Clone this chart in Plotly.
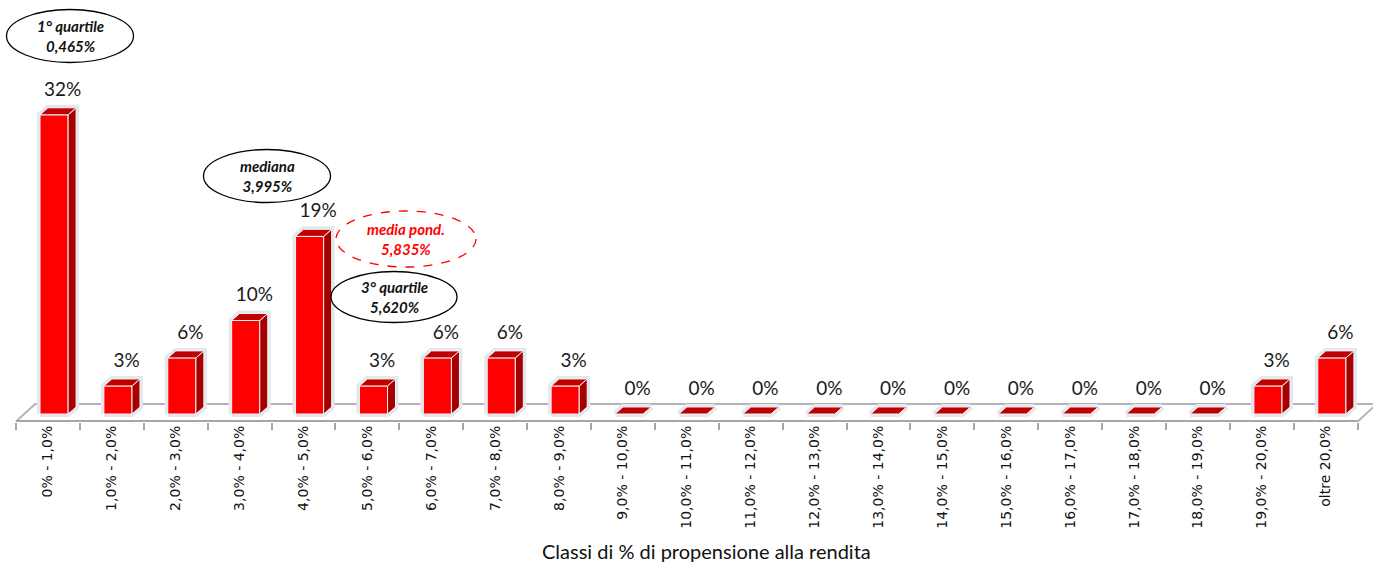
import plotly.graph_objects as go

# Distribution of the "propensione alla rendita" classes (share of cases, %)
categories = [
    "0% - 1,0%", "1,0% - 2,0%", "2,0% - 3,0%", "3,0% - 4,0%", "4,0% - 5,0%",
    "5,0% - 6,0%", "6,0% - 7,0%", "7,0% - 8,0%", "8,0% - 9,0%", "9,0% - 10,0%",
    "10,0% - 11,0%", "11,0% - 12,0%", "12,0% - 13,0%", "13,0% - 14,0%",
    "14,0% - 15,0%", "15,0% - 16,0%", "16,0% - 17,0%", "17,0% - 18,0%",
    "18,0% - 19,0%", "19,0% - 20,0%", "oltre 20,0%",
]
shares = [32, 3, 6, 10, 19, 3, 6, 6, 3, 0, 0, 0, 0, 0, 0, 0, 0, 0, 0, 3, 6]

# Summary statistics shown in the callouts
stat_labels = ["1° quartile", "mediana", "media pond.", "3° quartile"]
stat_values = ["0,465%", "3,995%", "5,835%", "5,620%"]

W, H = 1373, 562
PLOT_H = 422            # plot area height in px (top margin 0)
N = len(categories)

# pseudo-3D geometry (category units / percentage units)
BAR_X0 = -0.124         # offset of the front face from the category centre
BAR_W = 0.44
DX, DY = 0.125, 0.75    # depth of each column
FLOOR_FRONT, FLOOR_BACK = -0.8, 1.07
FLOOR_DX = 0.3

X_RANGE = [-0.75, 20.74]
Y_RANGE = [-0.856, 44.28]

fig = go.Figure()

# floor slab
fx = [-0.5, N - 0.5, N - 0.5 + FLOOR_DX, -0.5 + FLOOR_DX, -0.5]
fy = [FLOOR_FRONT, FLOOR_FRONT, FLOOR_BACK, FLOOR_BACK, FLOOR_FRONT]
fig.add_trace(go.Scatter(x=fx, y=fy, mode="lines", fill="toself",
                         fillcolor="#ffffff", line=dict(color="#b4b4b4", width=2),
                         hoverinfo="skip"))
fig.add_trace(go.Scatter(x=[-0.5, N - 0.5], y=[FLOOR_FRONT, FLOOR_FRONT], mode="lines",
                         line=dict(color="#a6a6a6", width=3), hoverinfo="skip"))


def polys(builder):
    xs, ys = [], []
    for i, v in enumerate(shares):
        px, py = builder(i, v)
        xs += px + [px[0], None]
        ys += py + [py[0], None]
    return xs, ys


def silhouette(i, v):
    x0 = i + BAR_X0
    x1 = x0 + BAR_W
    return ([x0, x1, x1 + DX, x1 + DX, x0 + DX, x0],
            [0, 0, DY, v + DY, v + DY, v])


def front(i, v):
    x0 = i + BAR_X0
    x1 = x0 + BAR_W
    return [x0, x1, x1, x0], [0, 0, v, v]


def side(i, v):
    x1 = i + BAR_X0 + BAR_W
    return [x1, x1 + DX, x1 + DX, x1], [0, DY, v + DY, v]


def top(i, v):
    x0 = i + BAR_X0
    x1 = x0 + BAR_W
    return [x0, x1, x1 + DX, x0 + DX], [v, v, v + DY, v + DY]


sx, sy = polys(silhouette)
fig.add_trace(go.Scatter(x=sx, y=sy, mode="lines", fill="toself", fillcolor="#e3e7ee",
                         line=dict(color="#e3e7ee", width=6), hoverinfo="skip"))
for builder, color in ((front, "#ff0000"), (side, "#a40000"), (top, "#c00000")):
    px_, py_ = polys(builder)
    fig.add_trace(go.Scatter(x=px_, y=py_, mode="lines", fill="toself", fillcolor=color,
                             line=dict(color="#f2f4f7", width=1), hoverinfo="skip"))

# value labels above each column
fig.add_trace(go.Scatter(
    x=[i + 0.23 for i in range(N)],
    y=[v + DY + 0.8 for v in shares],
    mode="text",
    text=[f"{v:.0f}%" for v in shares],
    textposition="top center",
    textfont=dict(family="Lato", size=19, color="#1a1a1a"),
    cliponaxis=False, hoverinfo="skip"))


def paper_x(px):
    return px / W


def paper_y(py):
    return (PLOT_H - py) / PLOT_H


# callout ellipses (centre x, centre y, width, height in px)
callouts = [
    (70, 36, 127, 53, "black", "solid"),
    (267, 176, 127, 53, "black", "solid"),
    (406, 239, 140, 56, "#ff0000", "dash"),
    (394, 297, 126, 51, "black", "solid"),
]
for (cx, cy, w, h, col, dash), lab, val in zip(callouts, stat_labels, stat_values):
    fig.add_shape(type="circle", xref="paper", yref="paper",
                  x0=paper_x(cx - w / 2), x1=paper_x(cx + w / 2),
                  y0=paper_y(cy + h / 2), y1=paper_y(cy - h / 2),
                  line=dict(color=col, width=1.3, dash=dash), fillcolor="white")
    fig.add_annotation(xref="paper", yref="paper", x=paper_x(cx), y=paper_y(cy),
                       text=f"<b><i>{lab}<br>{val}</i></b>", showarrow=False,
                       font=dict(family="Lato", size=15, color=col if col != "black" else "#111111"),
                       align="center", xanchor="center", yanchor="middle")

# axis title
fig.add_annotation(xref="paper", yref="paper", x=paper_x(706), y=paper_y(551),
                   text="Classi di % di propensione alla rendita", showarrow=False,
                   font=dict(family="Lato", size=20, color="#111111"),
                   xanchor="center", yanchor="middle")

fig.update_layout(
    width=W, height=H,
    margin=dict(l=0, r=0, t=0, b=H - PLOT_H),
    paper_bgcolor="white", plot_bgcolor="white",
    showlegend=False,
    xaxis=dict(range=X_RANGE, showgrid=False, zeroline=False, showline=False,
               tickmode="array", tickvals=list(range(N)), ticktext=categories,
               tickangle=-90, ticks="",
               tickfont=dict(family="DejaVu Sans", size=14, color="#111111"),
               minor=dict(tickmode="array", tickvals=[i - 0.5 for i in range(N + 1)],
                          ticks="outside", ticklen=7, tickcolor="#a6a6a6", tickwidth=1.5,
                          showgrid=False),
               fixedrange=True),
    yaxis=dict(range=Y_RANGE, visible=False, fixedrange=True),
)

fig.write_html("out.html")
